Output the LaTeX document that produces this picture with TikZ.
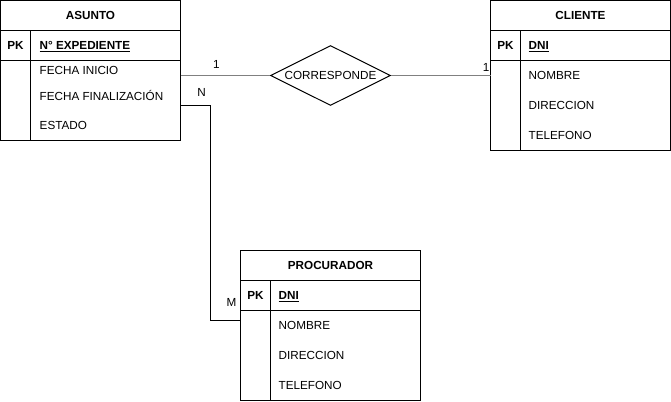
\documentclass[tikz,border=0pt]{standalone}
\usepackage{fontspec}
\setmainfont{Liberation Sans}
\usetikzlibrary{positioning, shapes, calc}

\begin{document}
\begin{tikzpicture}[x=1pt, y=-1pt, font=\fontsize{11.7}{14}\selectfont,
    caja/.style={draw, rectangle, minimum width=180pt, inner sep=0pt, outer sep=0pt, line width=1pt},
    titulo/.style={caja, minimum height=30pt, font=\fontsize{11.7}{14}\selectfont\bfseries},
    clave/.style={caja, minimum height=30pt},
    cuerpo/.style={caja},
    linea/.style={line width=1pt},
    relacion/.style={line width=1.8pt, draw=black!50},
    pk/.style={inner sep=0pt, text height=8.4pt, text depth=0pt, font=\fontsize{11.7}{14}\selectfont\bfseries},
    campo/.style={anchor=west, inner sep=0pt, text height=8.4pt, text depth=0pt},
    rombo/.style={diamond, draw, line width=1pt, minimum width=120pt, minimum height=60pt, aspect=2, inner sep=0pt},
    etiqueta/.style={inner sep=0pt, text height=8.4pt, text depth=0pt}]
    \useasboundingbox (-0.5,-0.5) rectangle (670.5,400.5);

    % Table ASUNTO
    \node[titulo] (asunto) at (90,15) {ASUNTO};
    \node[clave, below=0pt of asunto] (asuntoPK) {};
    \node[cuerpo, minimum height=80pt, below=0pt of asuntoPK] (asuntoAttr) {};
    \draw[linea] ([xshift=30pt]asuntoPK.north west) -- ([xshift=30pt]asuntoAttr.south west);
    \node[pk] (asuntoK) at ([xshift=15pt]asuntoPK.west) {PK};
    \node[campo, font=\fontsize{11.7}{14}\selectfont\bfseries] (expediente) at ([xshift=39pt]asuntoPK.west) {\underline{N° EXPEDIENTE}};
    \node[campo] (fechaInicio) at (39,70) {FECHA INICIO};
    \node[campo] (fechaFin) at (39,96) {FECHA FINALIZACIÓN};
    \node[campo] (estado) at (39,125) {ESTADO};

    % Table CLIENTE
    \node[titulo] (cliente) at (580,15) {CLIENTE};
    \node[clave, below=0pt of cliente] (clientePK) {};
    \node[cuerpo, minimum height=90pt, below=0pt of clientePK] (clienteAttr) {};
    \draw[linea] ([xshift=30pt]clientePK.north west) -- ([xshift=30pt]clienteAttr.south west);
    \node[pk] (clienteK) at ([xshift=15pt]clientePK.west) {PK};
    \node[campo, font=\fontsize{11.7}{14}\selectfont\bfseries] (clienteDNI) at ([xshift=38pt]clientePK.west) {\underline{DNI}};
    \node[campo] (clienteNombre) at (528,75) {NOMBRE};
    \node[campo] (clienteDir) at (528,105) {DIRECCION};
    \node[campo] (clienteTel) at (528,135) {TELEFONO};

    % Table PROCURADOR
    \node[titulo] (procurador) at (330,265) {PROCURADOR};
    \node[clave, below=0pt of procurador] (procPK) {};
    \node[cuerpo, minimum height=90pt, below=0pt of procPK] (procAttr) {};
    \draw[linea] ([xshift=30pt]procPK.north west) -- ([xshift=30pt]procAttr.south west);
    \node[pk] (procK) at ([xshift=15pt]procPK.west) {PK};
    \node[campo, font=\fontsize{11.7}{14}\selectfont\bfseries] (procDNI) at ([xshift=38pt]procPK.west) {\underline{DNI}};
    \node[campo] (procNombre) at (278,325) {NOMBRE};
    \node[campo] (procDir) at (278,355) {DIRECCION};
    \node[campo] (procTel) at (278,385) {TELEFONO};

    % Relationship
    \node[rombo] (corresponde) at (330,75) {CORRESPONDE};
    \draw[relacion] (asuntoAttr.east |- corresponde.west) -- (corresponde.west);
    \draw[relacion] (corresponde.east) -- (corresponde.east -| clienteAttr.west);
    \draw[linea] ([yshift=-5pt]asuntoAttr.east) -- ++(30,0) |- ([yshift=35pt]procAttr.west);

    % Cardinalities
    \node[etiqueta] (cardAsunto) at (216,64) {1};
    \node[etiqueta, anchor=east] (cardCliente) at (489,67) {1};
    \node[etiqueta] (cardN) at (201,92) {N};
    \node[etiqueta] (cardM) at (231,302) {M};
\end{tikzpicture}
\end{document}
